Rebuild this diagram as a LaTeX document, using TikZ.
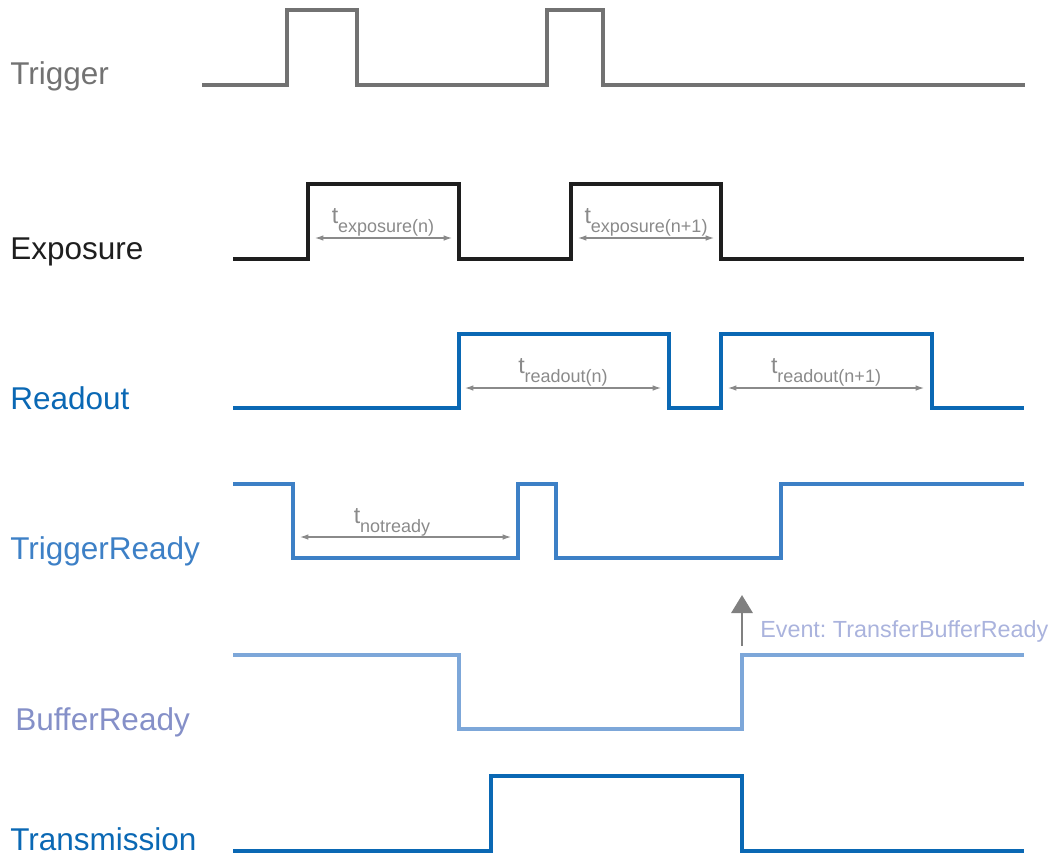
\documentclass[tikz,border=0pt]{standalone}
\usepackage{fontspec}
\setmainfont{Liberation Sans}
\usetikzlibrary{arrows.meta}
\definecolor{trigGray}{HTML}{727272}
\definecolor{expoBlack}{HTML}{1E1E1E}
\definecolor{readBlue}{HTML}{0A68B4}
\definecolor{readyBlue}{HTML}{3D80C6}
\definecolor{bufBlue}{HTML}{7DA7D9}
\definecolor{bufText}{HTML}{8590C8}
\definecolor{evText}{HTML}{AAB3DD}
\definecolor{dimGray}{HTML}{8A8A8A}
\newcommand{\tsub}[1]{{\fontsize{16.5}{17}\selectfont t}\raisebox{-6.4pt}{\fontsize{12.8}{13}\selectfont #1}}

\begin{document}
\frenchspacing
\begin{tikzpicture}[x=0.025cm,y=-0.025cm,
  sig/.style={line width=2.7pt},
  signame/.style={anchor=base west,inner sep=0pt,font=\fontsize{22.4}{24}\selectfont},
  dim/.style={dimGray,line width=0.8pt,{Latex[length=6pt,width=4pt]}-{Latex[length=6pt,width=4pt]}},
  dimlbl/.style={dimGray,anchor=base,inner sep=0pt}]
\useasboundingbox (0,0) rectangle (1056,857);
% signal names
\node[signame,text=trigGray] (ntrig) at (10,84) {Trigger};
\node[signame,text=expoBlack] (nexpo) at (10,259) {Exposure};
\node[signame,text=readBlue] (nread) at (10,409) {Readout};
\node[signame,text=readyBlue] (nready) at (10,559) {TriggerReady};
\node[signame,text=bufText] (nbuf) at (15,730) {BufferReady};
\node[signame,text=readBlue] (ntrans) at (10,850) {Transmission};
% waveforms
\draw[sig,trigGray,line width=2.5pt] (202,85) -- (287,85) -- (287,10) -- (357,10) -- (357,85)
  -- (547,85) -- (547,10) -- (603,10) -- (603,85) -- (1025,85);
\draw[sig,expoBlack] (233,259) -- (308,259) -- (308,184) -- (459,184) -- (459,259)
  -- (571,259) -- (571,184) -- (721,184) -- (721,259) -- (1024,259);
\draw[sig,readBlue] (233,408) -- (459,408) -- (459,334) -- (669,334) -- (669,408)
  -- (721,408) -- (721,334) -- (932,334) -- (932,408) -- (1024,408);
\draw[sig,readyBlue] (233,484) -- (293,484) -- (293,558) -- (518,558) -- (518,484)
  -- (556,484) -- (556,558) -- (781,558) -- (781,484) -- (1024,484);
\draw[sig,bufBlue,line width=2.3pt] (233,655) -- (459,655) -- (459,729) -- (742,729) -- (742,655) -- (1024,655);
\draw[sig,readBlue] (233,851) -- (491,851) -- (491,776) -- (742,776) -- (742,851) -- (1024,851);
% durations
\coordinate (e1a) at (315,238); \coordinate (e1b) at (452,238);
\coordinate (e2a) at (578,238); \coordinate (e2b) at (714,238);
\coordinate (r1a) at (465,388); \coordinate (r1b) at (661,388);
\coordinate (r2a) at (728,388); \coordinate (r2b) at (924,388);
\coordinate (nra) at (300,537); \coordinate (nrb) at (511,537);
\draw[dim] (e1a) -- (e1b);
\draw[dim] (e2a) -- (e2b);
\draw[dim] (r1a) -- (r1b);
\draw[dim] (r2a) -- (r2b);
\draw[dim] (nra) -- (nrb);
\node[dimlbl] (le1) at (383,223) {\tsub{exposure(n)}};
\node[dimlbl] (le2) at (646,223) {\tsub{exposure(n+1)}};
\node[dimlbl] (lr1) at (563,373) {\tsub{readout(n)}};
\node[dimlbl] (lr2) at (826,373) {\tsub{readout(n+1)}};
\node[dimlbl] (lnr) at (392,523) {\tsub{notready}};
% event
\coordinate (evfoot) at (742,646);
\coordinate (evtip) at (742,595);
\draw[gray,line width=2.1pt,-{Triangle[length=12.8pt,width=15pt]}] (evfoot) -- (evtip);
\node[anchor=base west,inner sep=0pt,text=evText,font=\fontsize{16.6}{18}\selectfont] (nev) at (760,637) {Event: TransferBufferReady};
\end{tikzpicture}
\end{document}
